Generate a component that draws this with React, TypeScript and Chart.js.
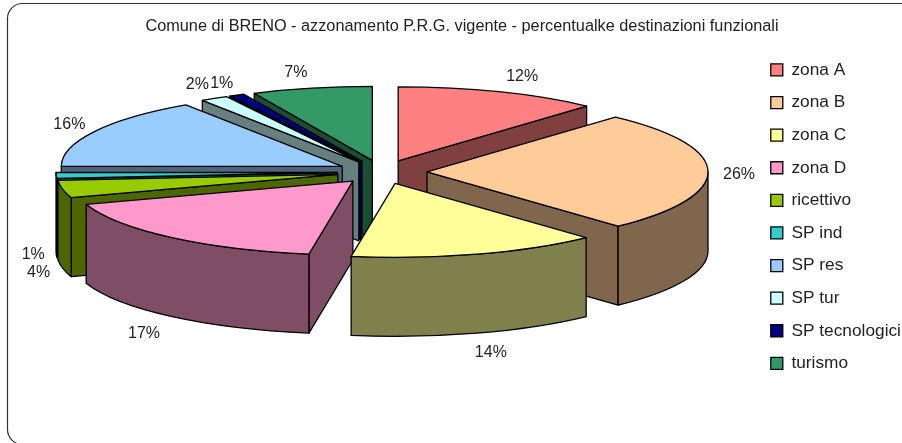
import React, { useEffect, useRef } from "react";
import { Chart, registerables } from "chart.js";

Chart.register(...registerables);

const titleText = "Comune di BRENO - azzonamento P.R.G. vigente - percentualke destinazioni funzionali";
const categories = ["zona A", "zona B", "zona C", "zona D", "ricettivo", "SP ind", "SP res", "SP tur", "SP tecnologici", "turismo"];
const shares = [11.7, 26.4, 14.4, 17.4, 3.8, 1.3, 15.6, 1.6, 0.9, 6.9];
const percentLabels = ["12%", "26%", "14%", "17%", "4%", "1%", "16%", "2%", "1%", "7%"];
const sliceColors = ["#FF8080", "#FFCC99", "#FFFF99", "#FF99CC", "#99CC00", "#33CCCC", "#99CCFF", "#CCFFFF", "#000080", "#339966"];
const drawOrder = [9, 8, 7, 6, 5, 4, 0, 1, 3, 2];
const labelNudgeX = [23, 31, 14, -27, -24, -23, -25, -17, -15, -16];
const labelNudgeY = [-15, 3, 19, 17, 4, 0, -7, -14, -12, -16];

const FONT = '"Liberation Sans", Arial, sans-serif';
const TILT = 74 / 281;
const DEPTH = 79;
const PIE_CENTER_Y = 172;

function darken(hex: string): string {
  const n = parseInt(hex.slice(1), 16);
  const c = [(n >> 16) & 255, (n >> 8) & 255, n & 255].map((v) => Math.round(v * 0.5));
  return `rgb(${c[0]},${c[1]},${c[2]})`;
}

const pie3d = {
  id: "pie3d",
  beforeDraw(chart: any) {
    const { ctx, width, height } = chart;
    ctx.save();
    ctx.fillStyle = "#fff";
    ctx.fillRect(0, 0, width, height);
    ctx.strokeStyle = "#333";
    ctx.lineWidth = 1.2;
    ctx.beginPath();
    ctx.roundRect(7.5, 3.5, 960, 441, 15);
    ctx.stroke();
    ctx.fillStyle = "#222";
    ctx.font = `16.3px ${FONT}`;
    ctx.textAlign = "center";
    ctx.textBaseline = "middle";
    ctx.fillText(titleText, 462, 27);
    ctx.restore();
  },
  beforeDatasetsDraw(chart: any) {
    const { ctx } = chart;
    const arcs = chart.getDatasetMeta(0).data;
    ctx.save();
    ctx.lineJoin = "round";
    for (const i of drawOrder) {
      const el = arcs[i];
      const s = el.startAngle;
      const e = el.endAngle;
      const mid = (s + e) / 2;
      const R = el.outerRadius;
      const off = (el.options.offset || 0) / 4;
      const cx = el.x + off * Math.cos(mid);
      const cy = PIE_CENTER_Y + TILT * off * Math.sin(mid);
      const top = el.options.backgroundColor;
      const side = darken(top);
      ctx.lineWidth = el.options.borderWidth;
      ctx.strokeStyle = el.options.borderColor;
      const px = (a: number) => cx + R * Math.cos(a);
      const py = (a: number) => cy + TILT * R * Math.sin(a);
      ctx.fillStyle = side;
      const cutFace = (a: number) => {
        ctx.beginPath();
        ctx.moveTo(cx, cy);
        ctx.lineTo(px(a), py(a));
        ctx.lineTo(px(a), py(a) + DEPTH);
        ctx.lineTo(cx, cy + DEPTH);
        ctx.closePath();
        ctx.fill();
        ctx.stroke();
      };
      if (-Math.cos(s) > 0) cutFace(s);
      if (Math.cos(e) > 0) cutFace(e);
      const a0 = Math.max(s, 0);
      const a1 = Math.min(e, Math.PI);
      if (a1 > a0) {
        ctx.beginPath();
        ctx.ellipse(cx, cy, R, R * TILT, 0, a0, a1);
        ctx.lineTo(px(a1), py(a1) + DEPTH);
        ctx.ellipse(cx, cy + DEPTH, R, R * TILT, 0, a1, a0, true);
        ctx.closePath();
        ctx.fill();
        ctx.stroke();
      }
      ctx.fillStyle = top;
      ctx.beginPath();
      ctx.moveTo(cx, cy);
      ctx.ellipse(cx, cy, R, R * TILT, 0, s, e);
      ctx.closePath();
      ctx.fill();
      ctx.stroke();
    }
    ctx.fillStyle = "#222";
    ctx.font = `16px ${FONT}`;
    ctx.textAlign = "center";
    ctx.textBaseline = "middle";
    arcs.forEach((el: any, i: number) => {
      const mid = (el.startAngle + el.endAngle) / 2;
      const r = el.outerRadius + (el.options.offset || 0) / 4;
      const x = el.x + r * Math.cos(mid) + labelNudgeX[i];
      const y = PIE_CENTER_Y + TILT * r * Math.sin(mid) + (Math.sin(mid) > 0 ? DEPTH : 0) + labelNudgeY[i];
      ctx.fillText(percentLabels[i], x, y);
    });
    ctx.restore();
    return false;
  },
};

export default function App() {
  const ref = useRef<HTMLCanvasElement>(null);
  useEffect(() => {
    const chart = new Chart(ref.current as HTMLCanvasElement, {
      type: "pie",
      data: {
        labels: categories,
        datasets: [
          {
            data: shares,
            backgroundColor: sliceColors,
            borderColor: "#000",
            borderWidth: 1.3,
            offset: 180,
          },
        ],
      },
      options: {
        animation: false,
        responsive: false,
        radius: 281,
        layout: { padding: { left: 8.5, top: 46, right: 0, bottom: 0 } },
        plugins: {
          title: { display: false },
          tooltip: { enabled: false },
          legend: {
            position: "right",
            align: "start",
            maxWidth: 146.5,
            labels: {
              boxWidth: 12,
              boxHeight: 12,
              padding: 15.3,
              color: "#222",
              font: { family: FONT, size: 17.3 },
            },
          },
        },
      } as any,
      plugins: [pie3d as any],
    });
    return () => chart.destroy();
  }, []);
  return (
    <div style={{ position: "fixed", left: 0, top: 0, width: 902, height: 443, overflow: "hidden", background: "#fff" }}>
      <canvas ref={ref} width={902} height={443} style={{ display: "block", filter: "blur(0.4px)" }} />
    </div>
  );
}
